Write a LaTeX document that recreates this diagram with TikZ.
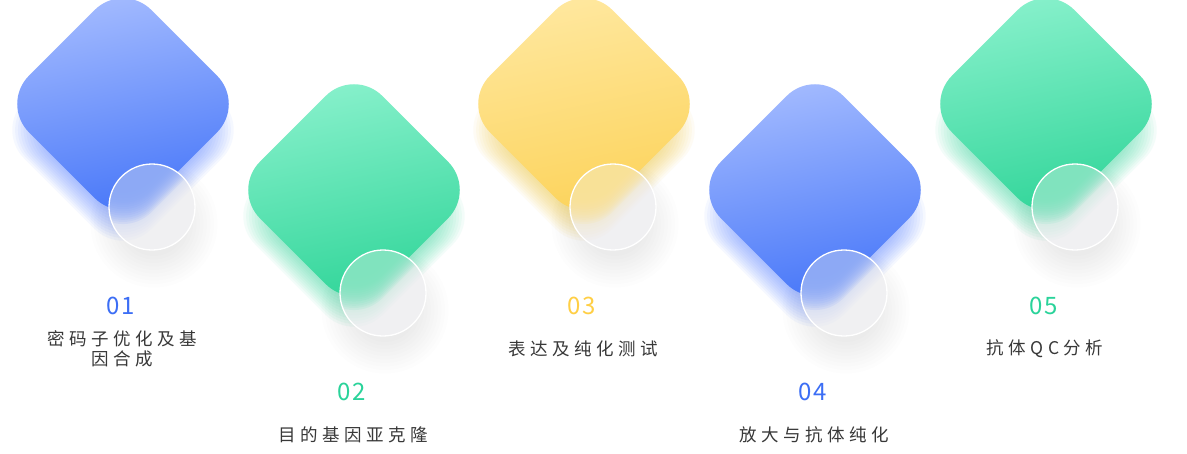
\documentclass[tikz,border=0pt]{standalone}
\usepackage{fontspec}
\newfontfamily\cjkfont[LetterSpace=26]{Noto Sans CJK SC}
\newfontfamily\numfont[LetterSpace=8]{Noto Sans CJK SC}
\definecolor{txtgray}{HTML}{383838}
\definecolor{hazegray}{HTML}{E8E8EC}
\definecolor{azureLight}{HTML}{A8BEFF}
\definecolor{azureDark}{HTML}{4273F8}
\definecolor{azureGlow}{HTML}{5580FF}
\definecolor{azureNum}{HTML}{3C6EF5}
\definecolor{mintLight}{HTML}{8CF2CE}
\definecolor{mintDark}{HTML}{2DD497}
\definecolor{mintGlow}{HTML}{34D89D}
\definecolor{mintNum}{HTML}{2AD39A}
\definecolor{amberLight}{HTML}{FFE9A3}
\definecolor{amberDark}{HTML}{FCD257}
\definecolor{amberGlow}{HTML}{F2C63A}
\definecolor{amberNum}{HTML}{FFCF45}
\usetikzlibrary{positioning}

\begin{document}
\begin{tikzpicture}[x=1pt, y=1pt,
    stepnum/.style={font=\numfont\fontsize{24}{26}\selectfont, inner sep=0pt},
    steptext/.style={font=\cjkfont\fontsize{17.5}{20}\selectfont, text=txtgray, align=center, inner sep=0pt},
    glass/.style={circle, minimum size=86pt, inner sep=0pt, draw=white, line width=1.3pt}]
    \useasboundingbox (0,0) rectangle (1187,-453);
    \fill[white] (0,0) rectangle (1187,-453);
    \foreach \cx/\cy/\tone/\num/\label in {123/104/azure/01/{密码子优化及基\\因合成}, 354/190/mint/02/{目的基因亚克隆}, 584/104/amber/03/{表达及纯化测试}, 815/190/azure/04/{放大与抗体纯化}, 1046/104/mint/05/{抗体QC分析}}{
        \begin{scope}[shift={(\cx,-\cy)}]
            % glow under the diamond
            \begin{scope}[shift={(0,-26)}, rotate=45]
                \foreach \k in {0,...,17}
                    \fill[\tone Glow, opacity=0.055, rounded corners=40pt] (-56-2*\k,-56-2*\k) rectangle (56+2*\k,56+2*\k);
            \end{scope}
            % soft shadow under the glass
            \foreach \k in {0,...,9}
                \fill[black, opacity=0.007] (31,-120) circle (32+3.5*\k);
            % diamond
            \shade[rotate=45, rounded corners=40pt, top color=\tone Light, bottom color=\tone Dark, shading angle=12] (-86.5,-86.5) rectangle (86.5,86.5);
            % frosted glass
            \fill[white] (29,-103) circle (43);
            \begin{scope}
                \clip (29,-103) circle (43);
                \fill[hazegray] (29,-103) circle (43);
                \begin{scope}[shift={(0,-26)}, rotate=45]
                    \foreach \k in {0,...,17}
                        \fill[\tone Glow, opacity=0.03, rounded corners=40pt] (-56-2*\k,-56-2*\k) rectangle (56+2*\k,56+2*\k);
                \end{scope}
                \begin{scope}[shift={(0,-3)}, rotate=45]
                    \foreach \k in {0,...,11}
                        \fill[\tone Dark, opacity=0.13, rounded corners=40pt] (-78-1.5*\k,-78-1.5*\k) rectangle (78+1.5*\k,78+1.5*\k);
                \end{scope}
                \fill[white, opacity=0.35] (29,-103) circle (43);
            \end{scope}
            \node[glass] (g\num) at (29,-103) {};
        \end{scope}
        \node[stepnum, text=\tone Num] (n\num) at (\cx-2,-\cy-202) {\num};
        \node[steptext] (t\num) at (\cx-1,-\cy-245) {\label};
    }
\end{tikzpicture}
\end{document}
